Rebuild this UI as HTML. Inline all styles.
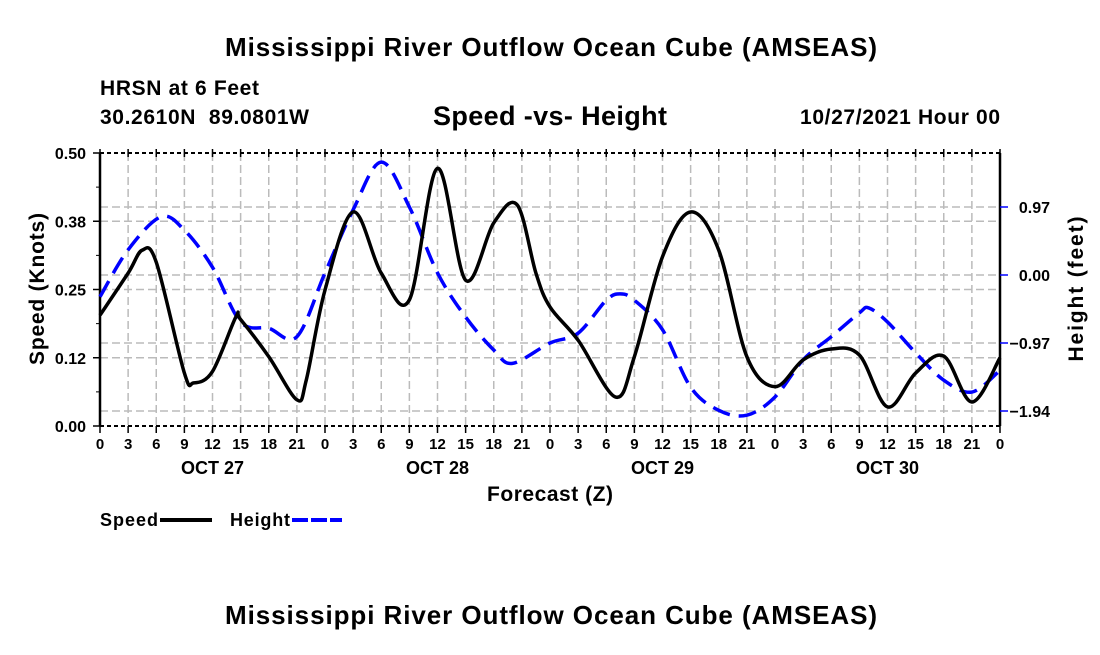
<!DOCTYPE html>
<html><head><meta charset="utf-8"><style>
body{margin:0;background:#fff;}
svg text{font-family:"Liberation Sans",Arial,sans-serif;font-weight:bold;fill:#000;}
</style></head><body>
<svg id="chart" width="1100" height="650" viewBox="0 0 1100 650" xmlns="http://www.w3.org/2000/svg">
<rect width="1100" height="650" fill="#fff"/>
<text x="551" y="56" font-size="26" text-anchor="middle" textLength="652">Mississippi River Outflow Ocean Cube (AMSEAS)</text>
<text x="100" y="95" font-size="21" textLength="159">HRSN at 6 Feet</text>
<text x="100" y="124" font-size="21" textLength="209" xml:space="preserve">30.2610N  89.0801W</text>
<text x="550" y="125" font-size="27" text-anchor="middle" textLength="234">Speed -vs- Height</text>
<text x="1000" y="124" font-size="21" text-anchor="end" textLength="200">10/27/2021 Hour 00</text>
<g id="grid"></g><g id="axes"></g><g id="series"></g>
<text transform="translate(44,289) rotate(-90)" font-size="21" text-anchor="middle" textLength="152">Speed (Knots)</text>
<text transform="translate(1083,289) rotate(-90)" font-size="21" text-anchor="middle" textLength="145">Height (feet)</text>
<text x="550" y="501" font-size="21" text-anchor="middle" textLength="126">Forecast (Z)</text>
<g>
<text x="100" y="526" font-size="18" textLength="58">Speed</text>
<line x1="160" y1="520" x2="212" y2="520" stroke="#000" stroke-width="4"/>
</g>
<g>
<text x="230" y="526" font-size="18" textLength="60">Height</text>
<line x1="292" y1="520" x2="342" y2="520" stroke="#00f" stroke-width="4" stroke-dasharray="16,3"/>
</g>
<text x="551" y="624" font-size="26" text-anchor="middle" textLength="652">Mississippi River Outflow Ocean Cube (AMSEAS)</text>
</svg>
<script>
const speedHours=[0,3,4.5,6,9,10,12,14.5,15,18,21,22,24,27,30,33,36,39,42,44.5,46.5,48,51,55,57,60,63,66,69,72,75,78,81,84,87,90,93,96];
const speedValues=[0.203,0.28,0.322,0.30,0.097,0.079,0.10,0.20,0.195,0.127,0.048,0.084,0.249,0.392,0.28,0.231,0.472,0.267,0.372,0.405,0.28,0.218,0.157,0.053,0.127,0.31,0.392,0.322,0.127,0.072,0.121,0.141,0.13,0.035,0.097,0.128,0.044,0.125];
const heightHours=[0,3,6.5,9,12,15,18,21,24,27,30,33,36,39,42,44,48,51,54,55.5,57,60,63,66,69,72,75,78,81,82,84,87,90,93,96];
const heightValues=[-0.31,0.36,0.83,0.64,0.11,-0.67,-0.76,-0.88,0.03,0.93,1.61,0.97,0.03,-0.6,-1.07,-1.26,-0.97,-0.83,-0.36,-0.27,-0.36,-0.78,-1.6,-1.93,-2.0,-1.74,-1.21,-0.88,-0.54,-0.47,-0.67,-1.11,-1.5,-1.67,-1.36];
const speedTicks=[0,0.125,0.25,0.375,0.5];
const speedTickLabels=["0.00","0.12","0.25","0.38","0.50"];
const heightTicks=[0.97,0,-0.97,-1.94];
const heightTickLabels=["0.97","0.00","\u22120.97","\u22121.94"];
const hourTickLabels=["0","3","6","9","12","15","18","21"];
const dayLabels=["OCT 27","OCT 28","OCT 29","OCT 30"];

const X0=100,X1=1000,YT=153,YB=426;
const xs=h=>X0+h/96*(X1-X0);
const ys=v=>YB-v/0.5*(YB-YT);
const yh=v=>275-v/0.97*68;
const NS="http://www.w3.org/2000/svg";
function mk(tag,attrs,parent){const e=document.createElementNS(NS,tag);for(const k in attrs)e.setAttribute(k,attrs[k]);parent.appendChild(e);return e;}
const grid=document.getElementById('grid'),axes=document.getElementById('axes'),series=document.getElementById('series');
const gs={stroke:"#bbb","stroke-width":1.5,"stroke-dasharray":"8,4"};
for(let h=3;h<96;h+=3){const l=mk('line',Object.assign({x1:xs(h),x2:xs(h),y1:YT,y2:YB},gs),grid);

}
speedTicks.slice(1,4).forEach(v=>{const l=mk('line',Object.assign({x1:X0,x2:X1,y1:ys(v),y2:ys(v)},gs),grid);

});
heightTicks.forEach(v=>{const l=mk('line',Object.assign({x1:X0,x2:X1,y1:yh(v),y2:yh(v)},gs),grid);

});
mk('line',{x1:X0,x2:X0,y1:YT,y2:YB,stroke:"#000","stroke-width":2.5},axes);
mk('line',{x1:X1,x2:X1,y1:YT,y2:YB,stroke:"#000","stroke-width":2.5},axes);
mk('line',{x1:X0,x2:X1,y1:YT,y2:YT,stroke:"#000","stroke-width":2,"stroke-dasharray":"4,3"},axes);
mk('line',{x1:X0,x2:X1,y1:YB,y2:YB,stroke:"#000","stroke-width":2,"stroke-dasharray":"4,3"},axes);
for(let h=0;h<=96;h+=3){const x=xs(h);
mk('line',{x1:x,x2:x,y1:YB,y2:YB+7,stroke:"#000","stroke-width":1.5},axes);
mk('line',{x1:x,x2:x,y1:YT-4,y2:YT+4,stroke:"#000","stroke-width":1.5},axes);
const t=mk('text',{x:x,y:449,"font-size":15,"text-anchor":"middle"},axes);t.textContent=hourTickLabels[(h/3)%8];

}
dayLabels.forEach((d,i)=>{const t=mk('text',{x:xs(12+24*i),y:474,"font-size":18,"text-anchor":"middle"},axes);t.textContent=d;

});
speedTicks.forEach((v,i)=>{mk('line',{x1:X0-7,x2:X0,y1:ys(v),y2:ys(v),stroke:"#000","stroke-width":1.5},axes);
const t=mk('text',{x:86,y:ys(v)+6,"font-size":16,"text-anchor":"end"},axes);t.textContent=speedTickLabels[i];

});
for(let v=0.0625;v<0.5;v+=0.125)mk('line',{x1:X0-4,x2:X0,y1:ys(v),y2:ys(v),stroke:"#000","stroke-width":1},axes);
heightTicks.forEach((v,i)=>{mk('line',{x1:X1,x2:X1+8,y1:yh(v),y2:yh(v),stroke:"#00f","stroke-width":1.5},axes);
const t=mk('text',{x:1050,y:yh(v)+6,"font-size":16,"text-anchor":"end"},axes);t.textContent=heightTickLabels[i];

});
function smooth(pts){let d=`M${pts[0][0]},${pts[0][1]}`;
for(let i=0;i<pts.length-1;i++){const p0=pts[Math.max(0,i-1)],p1=pts[i],p2=pts[i+1],p3=pts[Math.min(pts.length-1,i+2)];
const c1=[p1[0]+(p2[0]-p0[0])/6,p1[1]+(p2[1]-p0[1])/6],c2=[p2[0]-(p3[0]-p1[0])/6,p2[1]-(p3[1]-p1[1])/6];
d+=` C${c1[0]},${c1[1]} ${c2[0]},${c2[1]} ${p2[0]},${p2[1]}`;}return d;}
const hp=mk('path',{d:smooth(heightHours.map((h,i)=>[xs(h),yh(heightValues[i])])),fill:"none",stroke:"#00f","stroke-width":3.5,"stroke-dasharray":"18,9"},series);


const sp=mk('path',{d:smooth(speedHours.map((h,i)=>[xs(h),ys(speedValues[i])])),fill:"none",stroke:"#000","stroke-width":3.5},series);


</script>
</body></html>
